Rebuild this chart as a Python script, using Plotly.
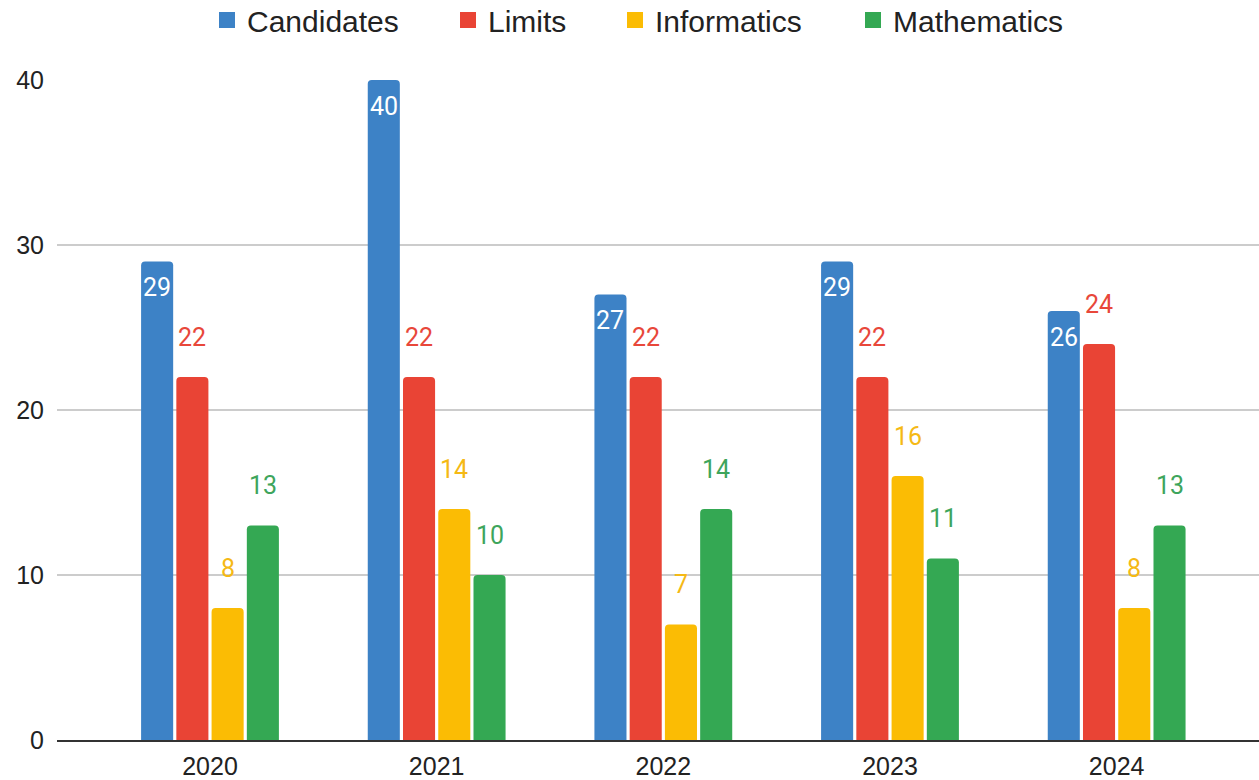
import plotly.graph_objects as go

years = ['2020', '2021', '2022', '2023', '2024']
series_names = ['Candidates', 'Limits', 'Informatics', 'Mathematics']
candidates = [29, 40, 27, 29, 26]
limits = [22, 22, 22, 22, 24]
informatics = [8, 14, 7, 16, 8]
mathematics = [13, 10, 14, 11, 13]
y_ticks = [0, 10, 20, 30, 40]

bar_colors = ['#3d82c6', '#e94435', '#fbbc04', '#34a853']
label_colors = ['#ffffff', '#e8473a', '#f5b915', '#3ea55c']

# layout geometry (pixels)
W, H = 1259, 780
M_L, M_R, M_T, M_B = 57, 0, 80, 40
X_RANGE = [-0.675, 4.628]
BARGAP = 0.378
BARGROUPGAP = 0.09
# where each legend entry's text starts in the reference (px from left)
LEGEND_TEXT_X = [247, 488, 655, 893]
LEGEND_TEXT_OFFSET = 40

tick_font = dict(family='Liberation Sans, Arial, sans-serif', size=25, color='#222222')
legend_font = dict(family='Liberation Sans, Arial, sans-serif', size=30, color='#222222')
label_family = 'Roboto, Liberation Sans, sans-serif'

all_values = [candidates, limits, informatics, mathematics]

fig = go.Figure()
for name, vals, col in zip(series_names, all_values, bar_colors):
    fig.add_trace(go.Bar(
        x=years,
        y=vals,
        name=name,
        marker=dict(color=col, line=dict(width=0), cornerradius=4),
        showlegend=False,
        hoverinfo='x+y+name'
    ))

# legend proxies, one legend each so the entries can be spread like the reference
legend_layouts = {}
for k, (name, col) in enumerate(zip(series_names, bar_colors)):
    lg = 'legend' if k == 0 else f'legend{k + 1}'
    fig.add_trace(go.Scatter(
        x=[None], y=[None], mode='markers', name=name,
        marker=dict(symbol='square', size=16, color=col),
        showlegend=True, legend=lg
    ))
    legend_layouts[lg] = dict(
        orientation='h',
        xref='container', yref='container',
        x=(LEGEND_TEXT_X[k] - LEGEND_TEXT_OFFSET) / W, xanchor='left',
        y=1 - 20 / H, yanchor='middle',
        font=legend_font,
        itemsizing='trace',
        bgcolor='rgba(0,0,0,0)'
    )

# data labels: Candidates inside near top in white, the rest floating above
# (x given as category index, since year strings look numeric to plotly)
cat_px = (W - M_L - M_R) / (X_RANGE[1] - X_RANGE[0])
slot_px = cat_px * (1 - BARGAP) / len(series_names)
annotations = []
for i, (vals, lc) in enumerate(zip(all_values, label_colors)):
    xshift = (i - (len(series_names) - 1) / 2) * slot_px
    yshift = -26 if i == 0 else 40
    for j, v in enumerate(vals):
        annotations.append(dict(
            x=j, y=v, xref='x', yref='y', text=str(v), showarrow=False,
            xshift=xshift, yshift=yshift, yanchor='middle', xanchor='center',
            font=dict(family=label_family, size=25, color=lc)
        ))

fig.update_layout(
    width=W, height=H,
    barmode='group',
    bargap=BARGAP,
    bargroupgap=BARGROUPGAP,
    margin=dict(l=M_L, r=M_R, t=M_T, b=M_B, pad=0, autoexpand=False),
    paper_bgcolor='white',
    plot_bgcolor='white',
    annotations=annotations,
    xaxis=dict(
        type='category',
        range=X_RANGE,
        showgrid=False,
        showline=True,
        linecolor='#333333',
        linewidth=2,
        tickfont=tick_font,
        ticks='',
        ticklabelstandoff=3,
        automargin=False
    ),
    yaxis=dict(
        range=[0, 40],
        tickvals=y_ticks,
        showgrid=True,
        gridcolor='#cccccc',
        gridwidth=2,
        zeroline=False,
        tickfont=tick_font,
        ticks='',
        ticklabelstandoff=12,
        automargin=False
    ),
    **legend_layouts
)

# drop the default page margin so the fixed-size figure fills the window
fig.write_html('out.html', config={'displayModeBar': False},
               post_script="document.body.style.margin='0';")
